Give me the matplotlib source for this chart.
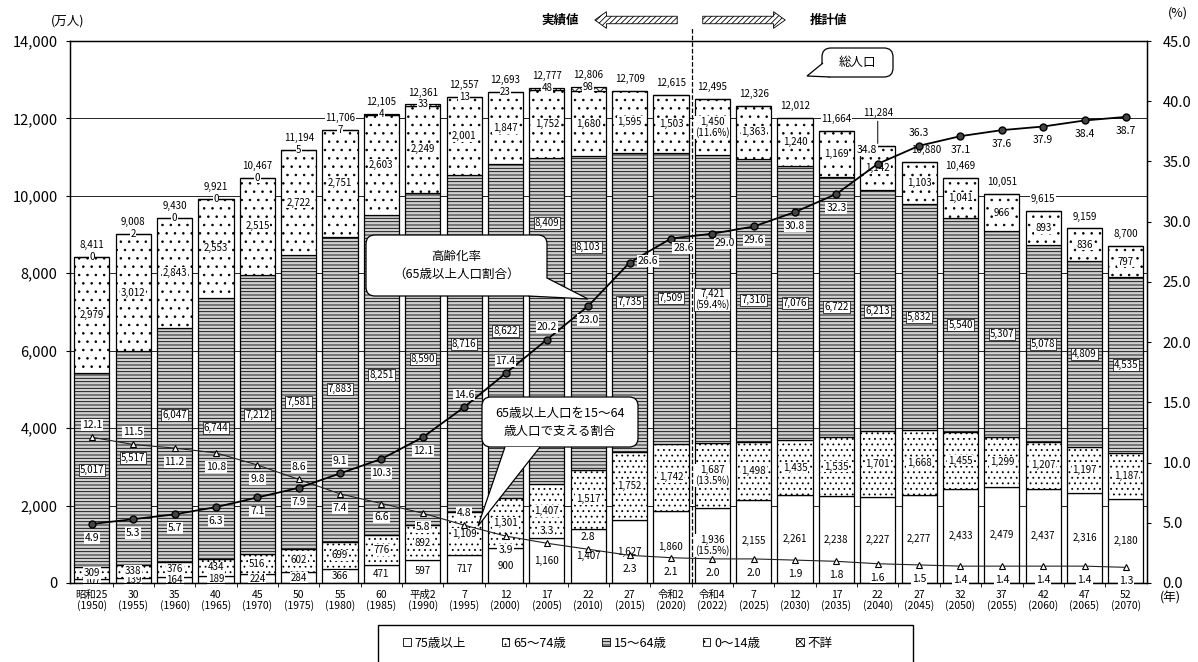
import numpy as np
import matplotlib.pyplot as plt
import matplotlib.patches as mpatches
from matplotlib.transforms import IdentityTransform
from matplotlib.ticker import FuncFormatter

plt.rcParams['font.family'] = ['Noto Sans CJK JP', 'DejaVu Sans']
plt.rcParams['hatch.linewidth'] = 0.6

W, H = 1198, 662

# 和暦ラベルと西暦
era_labels = ['昭和25', '30', '35', '40', '45', '50', '55', '60', '平成2', '7', '12', '17',
              '22', '27', '令和2', '令和4', '7', '12', '17', '22', '27', '32', '37', '42',
              '47', '52']
years = [1950, 1955, 1960, 1965, 1970, 1975, 1980, 1985, 1990, 1995, 2000, 2005, 2010,
         2015, 2020, 2022, 2025, 2030, 2035, 2040, 2045, 2050, 2055, 2060, 2065, 2070]

# 年齢区分別人口（万人）
age_0_14 = [2979, 3012, 2843, 2553, 2515, 2722, 2751, 2603, 2249, 2001, 1847, 1752, 1680,
            1595, 1503, 1450, 1363, 1240, 1169, 1142, 1103, 1041, 966, 893, 836, 797]
age_15_64 = [5017, 5517, 6047, 6744, 7212, 7581, 7883, 8251, 8590, 8716, 8622, 8409, 8103,
             7735, 7509, 7421, 7310, 7076, 6722, 6213, 5832, 5540, 5307, 5078, 4809, 4535]
age_65_74 = [309, 338, 376, 434, 516, 602, 699, 776, 892, 1109, 1301, 1407, 1517,
             1752, 1742, 1687, 1498, 1435, 1535, 1701, 1668, 1455, 1299, 1207, 1197, 1187]
age_75_over = [107, 139, 164, 189, 224, 284, 366, 471, 597, 717, 900, 1160, 1407,
               1627, 1860, 1936, 2155, 2261, 2238, 2227, 2277, 2433, 2479, 2437, 2316, 2180]
age_unknown = [0, 2, 0, 0, 0, 5, 7, 4, 33, 13, 23, 48, 98] + [np.nan] * 13
total_pop = [8411, 9008, 9430, 9921, 10467, 11194, 11706, 12105, 12361, 12557, 12693,
             12777, 12806, 12709, 12615, 12495, 12326, 12012, 11664, 11284, 10880, 10469,
             10051, 9615, 9159, 8700]

# 高齢化率（%）と 65歳以上人口を15～64歳人口で支える割合
aging_rate = [4.9, 5.3, 5.7, 6.3, 7.1, 7.9, 9.1, 10.3, 12.1, 14.6, 17.4, 20.2, 23.0,
              26.6, 28.6, 29.0, 29.6, 30.8, 32.3, 34.8, 36.3, 37.1, 37.6, 37.9, 38.4, 38.7]
support_ratio = [12.1, 11.5, 11.2, 10.8, 9.8, 8.6, 7.4, 6.6, 5.8, 4.8, 3.9, 3.3, 2.8,
                 2.3, 2.1, 2.0, 2.0, 1.9, 1.8, 1.6, 1.5, 1.4, 1.4, 1.4, 1.4, 1.3]


def fx(px):
    return px / W


def fy(py):
    return 1 - py / H


def callout(fig, box, base, tip, text, fontsize=9):
    # 角丸の吹き出し（座標はピクセル、上から下向き）
    tr = IdentityTransform()
    x0, y0, x1, y1 = box
    fig.add_artist(mpatches.FancyBboxPatch(
        (x0, H - y1), x1 - x0, y1 - y0, boxstyle='round,pad=0,rounding_size=9',
        transform=tr, fc='white', ec='black', lw=0.9, zorder=20))
    pts = [(base[0][0], H - base[0][1]), (tip[0], H - tip[1]), (base[1][0], H - base[1][1])]
    fig.add_artist(mpatches.Polygon(pts, closed=True, transform=tr, fc='white', ec='none',
                                    zorder=21))
    fig.add_artist(mpatches.Polygon(pts, closed=False, transform=tr, fill=False,
                                    ec='black', lw=0.9, zorder=22))
    fig.text(fx((x0 + x1) / 2), fy((y0 + y1) / 2), text, ha='center', va='center',
             fontsize=fontsize, linespacing=1.5, zorder=23)


fig = plt.figure(figsize=(W / 100, H / 100), dpi=100)
ax = fig.add_axes([fx(70), fy(583), (1147 - 70) / W, (583 - 41) / H])

n = len(years)
x = np.arange(n)
bar_w = 0.85

segments = [
    ('75歳以上', age_75_over, dict(facecolor='white')),
    ('65～74歳', age_65_74, dict(facecolor='white', hatch='...')),
    ('15～64歳', age_15_64, dict(facecolor='#d0d0d0', hatch='-----')),
    ('0～14歳', age_0_14, dict(facecolor='white', hatch='..')),
    ('不詳', age_unknown, dict(facecolor='white', hatch='xxxx')),
]

# 15～64歳の数値ラベルの縦位置（区間内の割合）
mid_frac = [0.5] * n
mid_frac[2] = 0.63
mid_frac[11] = 0.8
mid_frac[12] = 0.71

bottom = np.zeros(n)
i2022 = years.index(2022)
for name, vals, style in segments:
    v = np.nan_to_num(np.array(vals, dtype=float))
    ax.bar(x, v, width=bar_w, bottom=bottom, edgecolor='black', linewidth=0.9,
           zorder=2, **style)
    if name != '不詳':
        for i in range(n):
            txt = f'{int(v[i]):,}'
            if i == i2022:
                txt += f'\n({v[i] / total_pop[i] * 100:.1f}%)'
            frac = 0.5
            if name == '15～64歳':
                bb = dict(boxstyle='square,pad=0.1', fc='white', ec='black', lw=0.5)
                frac = mid_frac[i]
            else:
                bb = dict(boxstyle='square,pad=0.08', fc='white', ec='none')
            ax.text(x[i], bottom[i] + v[i] * frac, txt, ha='center', va='center',
                    fontsize=7, linespacing=1.0, bbox=bb, zorder=3)
    bottom += v

# 不詳の数値は棒の上端に
for i, u in enumerate(age_unknown):
    if not np.isnan(u):
        ax.text(x[i], bottom[i], f'{int(u)}', ha='center', va='center', fontsize=7,
                bbox=dict(boxstyle='square,pad=0.05', fc='white', ec='none'), zorder=3)

# 総人口
for i, t in enumerate(total_pop):
    if years[i] == 2040:
        ax.annotate(f'{t:,}', xy=(x[i], bottom[i]), xytext=(0, 20),
                    textcoords='offset points', ha='center', va='bottom', fontsize=7,
                    arrowprops=dict(arrowstyle='-', lw=0.7, color='black',
                                    shrinkA=0, shrinkB=2), zorder=4)
    else:
        dx = 5 if years[i] == 2045 else 0
        ax.annotate(f'{t:,}', xy=(x[i], bottom[i]), xytext=(dx, 5),
                    textcoords='offset points', ha='center', va='bottom', fontsize=7,
                    bbox=dict(boxstyle='square,pad=0.05', fc='white', ec='none'),
                    zorder=4)

ax.set_xlim(-0.53, n - 0.49)
ax.set_ylim(0, 14000)
ax.set_yticks(range(0, 14001, 2000))
ax.yaxis.set_major_formatter(FuncFormatter(lambda v, p: f'{v:,.0f}'))
ax.grid(axis='y', color='black', linewidth=0.6)
ax.set_axisbelow(True)
ax.set_xticks(x)
ax.set_xticklabels([f'{e}\n({y})' for e, y in zip(era_labels, years)], fontsize=7.5,
                   linespacing=1.0)
ax.set_xticks(x[:-1] + 0.5, minor=True)
ax.tick_params(axis='x', which='major', length=0, pad=5)
ax.tick_params(axis='x', which='minor', length=3, direction='out')
ax.tick_params(axis='y', labelsize=10.5, length=3, pad=6)
for s in ax.spines.values():
    s.set_linewidth(1.0)

# 実績値と推計値の境界
ax.plot([14.5, 14.5], [0, 14370], ls='--', color='black', lw=0.9, clip_on=False, zorder=4)

ax2 = ax.twinx()
ax2.set_ylim(0, 45)
ax2.set_yticks(np.arange(0, 45.1, 5))
ax2.yaxis.set_major_formatter(FuncFormatter(lambda v, p: f'{v:.1f}'))
ax2.tick_params(axis='y', labelsize=10.5, length=3, pad=8)

ax2.plot(x, support_ratio, '-^', color='#222222', lw=0.8, ms=5, mfc='white', mec='black',
         mew=0.8, zorder=5)
ax2.plot(x, aging_rate, '-o', color='black', lw=1.3, ms=5, mfc='#444444', mec='black',
         zorder=6)

offsets = {'a': (0, 9), 'b': (0, -10), 'r': (13, 1), 'br': (9, -7), 'al': (-8, 10)}
aging_pos = ['b'] * 6 + ['a', 'b', 'b', 'a', 'a', 'a', 'b', 'r', 'br', 'br', 'b', 'b',
                         'b', 'al', 'a', 'b', 'b', 'b', 'b', 'b']
support_pos = ['a', 'a', 'b', 'b', 'b', 'a', 'b', 'b', 'b', 'a', 'b', 'a', 'a', 'b'] + ['b'] * 12

for i in range(n):
    in_bar = dict(boxstyle='square,pad=0.08', fc='white', ec='none')
    ax2.annotate(f'{aging_rate[i]:.1f}', xy=(x[i], aging_rate[i]),
                 xytext=offsets[aging_pos[i]], textcoords='offset points',
                 ha='center', va='center', fontsize=7.5, bbox=in_bar, zorder=7)
    ax2.annotate(f'{support_ratio[i]:.1f}', xy=(x[i], support_ratio[i]),
                 xytext=offsets[support_pos[i]], textcoords='offset points',
                 ha='center', va='center', fontsize=7.5, bbox=in_bar, zorder=7)

# 吹き出し
callout(fig, (822, 48, 893, 77), ((823, 63), (830, 77)), (807, 76), '総人口')
callout(fig, (366, 235, 547, 296), ((528, 296), (547, 278)), (588, 299),
        '高齢化率\n（65歳以上人口割合）')
callout(fig, (482, 397, 638, 447), ((505, 447), (540, 447)), (478, 526),
        '65歳以上人口を15～64\n歳人口で支える割合')

# 見出し
fig.text(fx(68), fy(21), '(万人)', ha='center', va='center', fontsize=9)
fig.text(fx(1178), fy(13), '(%)', ha='center', va='center', fontsize=9)
fig.text(fx(1170), fy(598), '(年)', ha='center', va='center', fontsize=9)
fig.text(fx(560), fy(20), '実績値', ha='center', va='center', fontsize=9, fontweight='bold')
fig.text(fx(828), fy(20), '推計値', ha='center', va='center', fontsize=9, fontweight='bold')
arrow_style = 'simple,head_length=0.7,head_width=1.0,tail_width=0.45'
for a, b in [((680, 20), (592, 20)), ((700, 20), (788, 20))]:
    fig.add_artist(mpatches.FancyArrowPatch(
        (fx(a[0]), fy(a[1])), (fx(b[0]), fy(b[1])), transform=fig.transFigure,
        arrowstyle=arrow_style, mutation_scale=12, hatch='//////', fc='white',
        ec='black', lw=0.6))

# 凡例（枠は下端で切れる）
fig.add_artist(mpatches.Rectangle((378, -10), 913 - 378, H - 625 + 10,
                                  transform=IdentityTransform(), fill=False,
                                  ec='black', lw=1.0))
handles = [mpatches.Patch(edgecolor='black', linewidth=0.6, label=name, **style)
           for name, _, style in segments]
fig.legend(handles=handles, loc='center left', ncol=5, frameon=False,
           bbox_to_anchor=(fx(403), fy(643)), fontsize=9, handlelength=0.6,
           handleheight=0.6, handletextpad=0.3, columnspacing=2.9, borderpad=0,
           borderaxespad=0)

fig.savefig('out.png', dpi=100)
